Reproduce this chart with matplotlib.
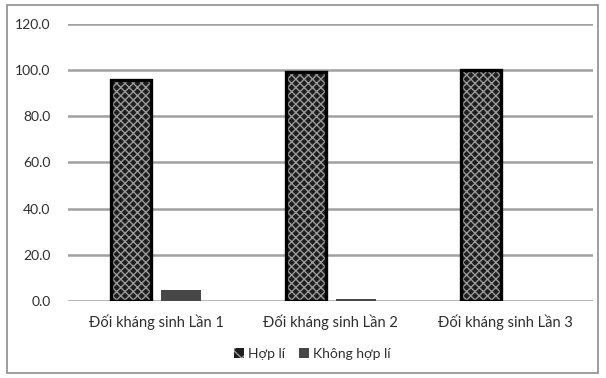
import matplotlib.pyplot as plt
import matplotlib.patches as mpatches
import numpy as np

plt.rcParams['font.family'] = ['Lato', 'DejaVu Sans']

categories = ['Đối kháng sinh Lần 1', 'Đối kháng sinh Lần 2', 'Đối kháng sinh Lần 3']
hop_li = [95.5, 99.0, 100.0]
khong_hop_li = [4.8, 0.8, 0.0]
series_names = ['Hợp lí', 'Không hợp lí']
y_ticks = [0, 20, 40, 60, 80, 100, 120]

text_color = '#2e2e2e'
grid_color = '#a0a0a0'

fig = plt.figure(figsize=(6.06, 3.78), dpi=100)
ax = fig.add_axes([0.113, 0.204, 0.866, 0.733])

x = np.arange(len(categories))
w = 0.229
gap = 0.057
x1 = x - (w + gap) / 2
x2 = x + (w + gap) / 2

# patterned bars: dark fill with light cross-hatch, then a heavy black outline on top
ax.bar(x1, hop_li, w, color='#1e1e1e', edgecolor='#9a9a9a', hatch='xxxx', linewidth=0, zorder=3)
ax.bar(x1, hop_li, w, fill=False, edgecolor='black', linewidth=2.4, zorder=4)
ax.bar(x2, khong_hop_li, w, color='#474747', linewidth=0, zorder=3)

ax.set_xlim(-0.5, len(categories) - 0.5)
ax.set_ylim(0, 120)
ax.set_yticks(y_ticks)
ax.set_yticklabels([f'{v:.1f}' for v in y_ticks])
ax.set_xticks(x)
ax.set_xticklabels(categories)
ax.yaxis.grid(True, color=grid_color, linewidth=1.8, zorder=0)
ax.set_axisbelow(True)
for s in ax.spines.values():
    s.set_visible(False)
ax.tick_params(axis='y', length=0, pad=13, labelsize=10, labelcolor=text_color)
ax.tick_params(axis='x', length=0, pad=10, labelsize=10.5, labelcolor=text_color)

h1 = mpatches.Patch(facecolor='#1e1e1e', edgecolor='#9a9a9a', hatch='xx', linewidth=0)
h2 = mpatches.Patch(facecolor='#474747', edgecolor='none')
leg = fig.legend([h1, h2], series_names, loc='center', bbox_to_anchor=(0.515, 0.063),
                 ncol=2, frameon=False, fontsize=10, handlelength=0.7, handleheight=0.7,
                 handletextpad=0.3, columnspacing=1.0)
for t in leg.get_texts():
    t.set_color(text_color)

# outer chart border
fig.patches.append(mpatches.Rectangle((0.012, 0.013), 0.974, 0.974, transform=fig.transFigure,
                                      fill=False, edgecolor='#8c8c8c', linewidth=1.2))

fig.savefig('out.png', dpi=100)
